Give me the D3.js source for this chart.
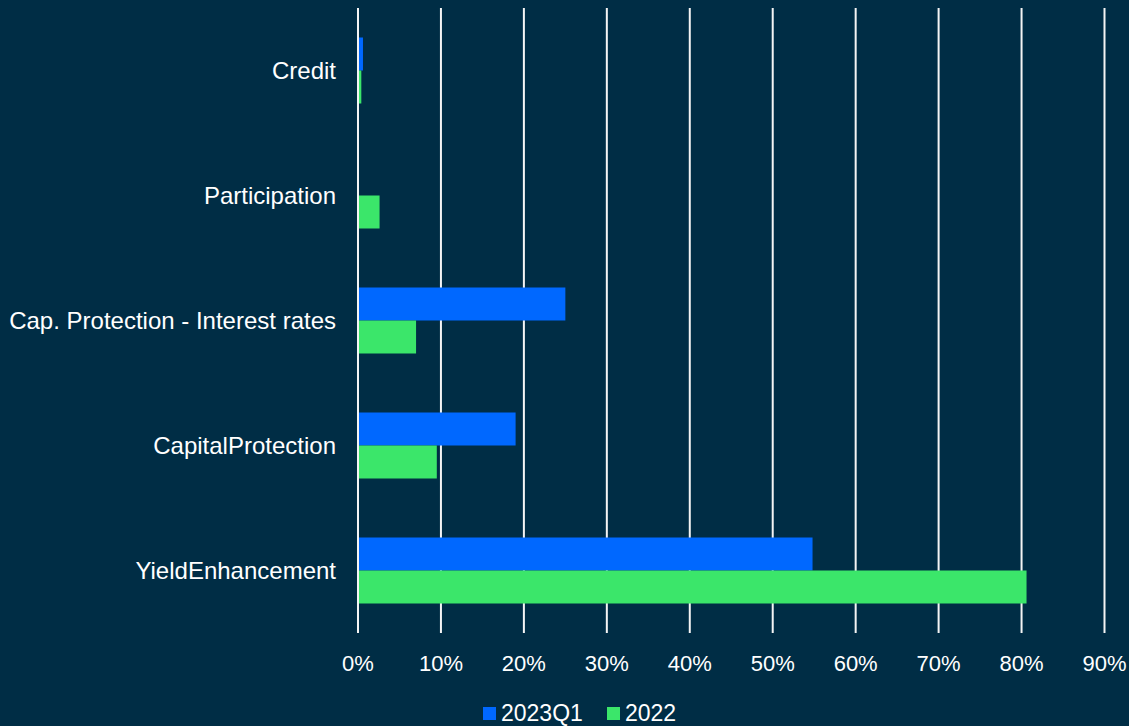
<!DOCTYPE html>
<html><head><meta charset="utf-8">
<script src="https://cdn.jsdelivr.net/npm/d3@7"></script>
<style>html,body{margin:0;padding:0;background:#002d45;}svg{display:block;}</style>
</head><body>
<svg id="c" width="1129" height="726"></svg>
<script>
const categories = ["Credit","Participation","Cap. Protection - Interest rates","CapitalProtection","YieldEnhancement"];
const seriesNames = ["2023Q1","2022"];
const values2023Q1 = [0.006, 0, 0.25, 0.19, 0.548];
const values2022 = [0.004, 0.026, 0.07, 0.095, 0.806];
const xTicks = [0,0.1,0.2,0.3,0.4,0.5,0.6,0.7,0.8,0.9];
const colors = ["#0068ff","#3be66a"];

(function(){
const svg = d3.select("#c");
const FONT = "'Liberation Sans', Arial, sans-serif";
svg.append("rect").attr("width",1129).attr("height",726).attr("fill","#002d45");
const pLeft = 358, pRight = 1104.5, pTop = 8, pBottom = 633;
const x = d3.scaleLinear().domain([0,0.9]).range([pLeft,pRight]);
const y = d3.scaleBand().domain(categories).range([pTop,pBottom]).paddingInner(0.472).paddingOuter(0.236);
const ySub = d3.scaleBand().domain(seriesNames).range([0,y.bandwidth()]);

svg.append("g").selectAll("line").data(xTicks).join("line")
  .attr("x1",d=>x(d)).attr("x2",d=>x(d)).attr("y1",pTop).attr("y2",pBottom)
  .attr("stroke","#f4f4f4").attr("stroke-width",2);

const data = [values2023Q1, values2022];
seriesNames.forEach((s,i)=>{
  svg.append("g").selectAll("rect").data(categories).join("rect")
    .attr("x",x(0)+1).attr("y",c=>y(c)+ySub(s))
    .attr("width",(c,j)=>Math.max(0,x(data[i][j])-x(0)-1))
    .attr("height",ySub.bandwidth())
    .attr("fill",colors[i]);
});

svg.append("g").selectAll("text").data(categories).join("text")
  .attr("x",336).attr("y",c=>y(c)+y.bandwidth()/2).attr("dy","0.37em")
  .attr("text-anchor","end").attr("fill","#ffffff")
  .style("font-family",FONT).style("font-size","24px")
  .text(d=>d);

svg.append("g").selectAll("text").data(xTicks).join("text")
  .attr("x",d=>x(d)).attr("y",671).attr("text-anchor","middle").attr("fill","#ffffff")
  .style("font-family",FONT).style("font-size","22px")
  .text(d=>d3.format(".0%")(d));

const lg = svg.append("g");
const legendX = [483, 607];
seriesNames.forEach((s,i)=>{
  lg.append("rect").attr("x",legendX[i]).attr("y",707).attr("width",13).attr("height",13).attr("fill",colors[i]);
  lg.append("text").attr("x",legendX[i]+18).attr("y",721).attr("fill","#ffffff")
    .style("font-family",FONT).style("font-size","23px").text(s);
});
})();
</script>
</body></html>
